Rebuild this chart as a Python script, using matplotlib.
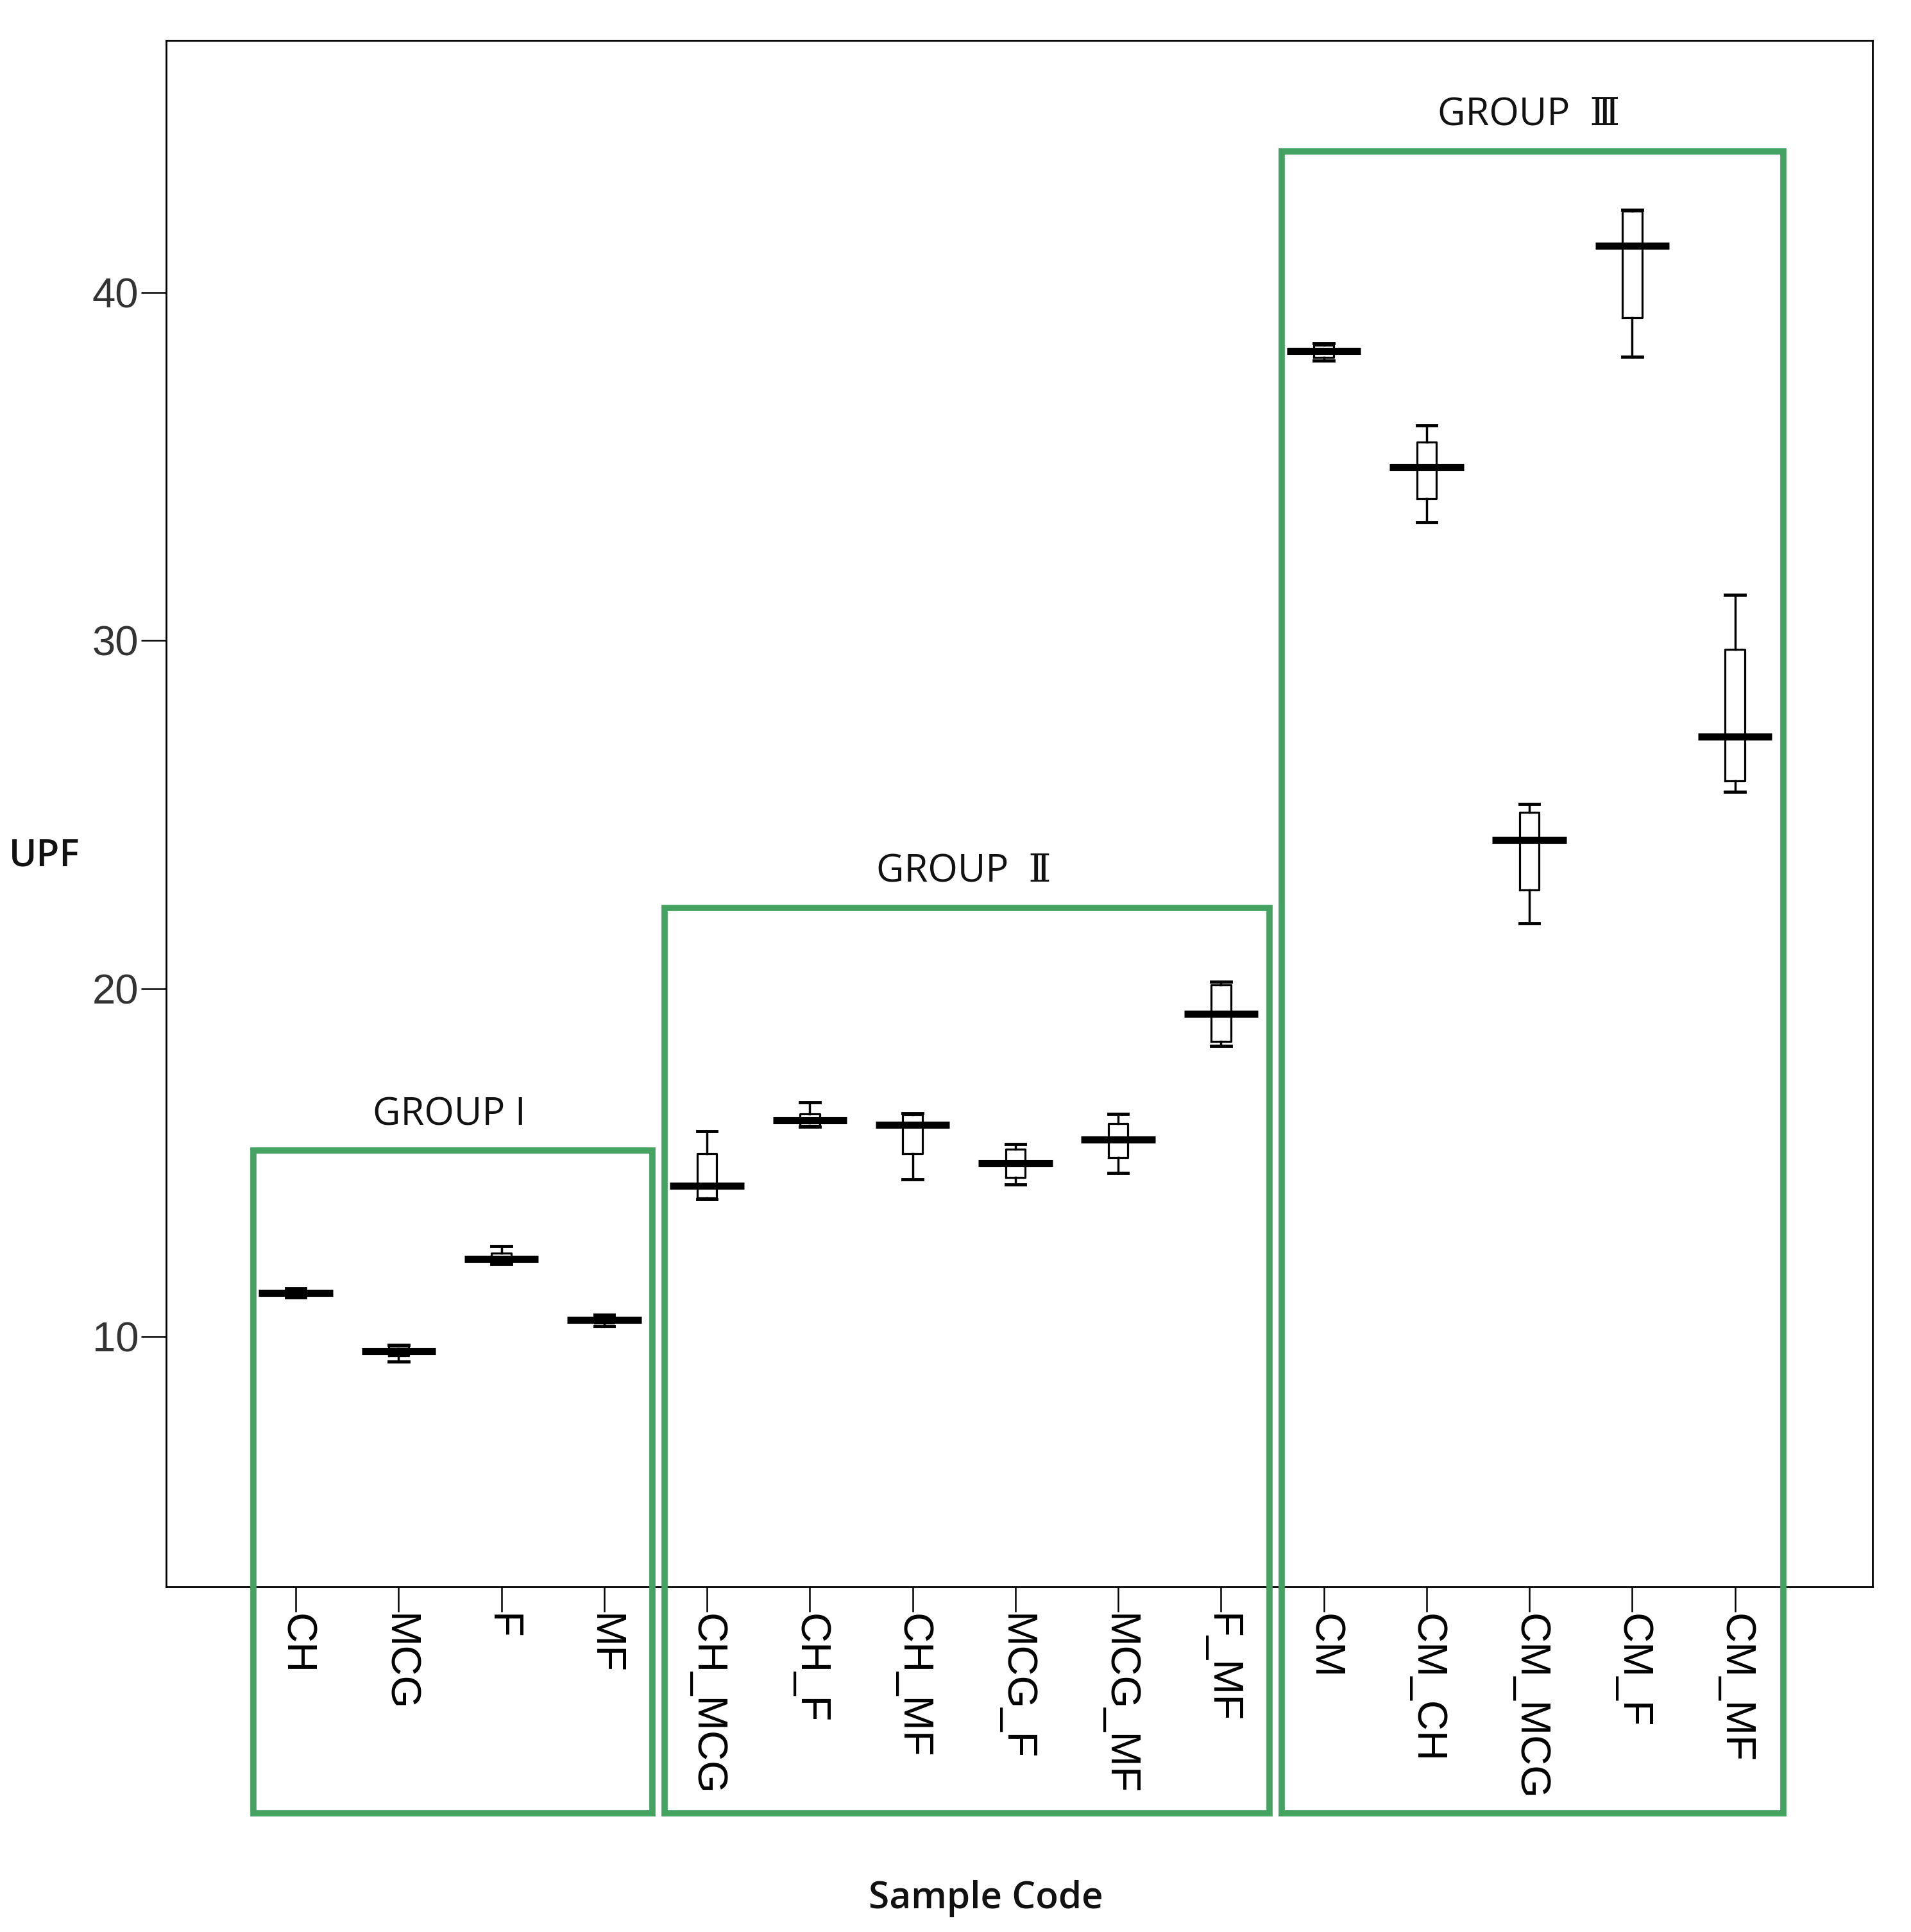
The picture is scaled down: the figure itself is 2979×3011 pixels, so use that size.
import matplotlib
matplotlib.use("Agg")
import matplotlib.pyplot as plt
from matplotlib.patches import Rectangle

# ---------------- data ----------------
categories = ["CH", "MCG", "F", "MF",
              "CH_MCG", "CH_F", "CH_MF", "MCG_F", "MCG_MF", "F_MF",
              "CM", "CM_CH", "CM_MCG", "CM_F", "CM_MF"]
whis_lo = [11.12, 9.28, 12.09, 10.30,
           13.95, 16.02, 14.52, 14.37, 14.70, 18.36,
           38.05, 33.40, 21.88, 38.16, 25.65]
q1 = [11.18, 9.45, 12.12, 10.38,
      13.98, 16.06, 15.26, 14.58, 15.15, 18.49,
      38.15, 34.08, 22.84, 39.28, 25.97]
median = [11.26, 9.57, 12.22, 10.47,
          14.34, 16.21, 16.09, 14.98, 15.66, 19.28,
          38.32, 34.99, 24.27, 41.36, 27.25]
q3 = [11.34, 9.72, 12.40, 10.58,
      15.26, 16.40, 16.38, 15.38, 16.12, 20.11,
      38.50, 35.71, 25.06, 42.35, 29.76]
whis_hi = [11.38, 9.75, 12.59, 10.62,
           15.90, 16.73, 16.42, 15.53, 16.40, 20.20,
           38.55, 36.18, 25.31, 42.38, 31.32]

group_names = ["GROUP I", "GROUP  \u2161", "GROUP  \u2162"]
group_first = [0, 4, 10]
group_last = [3, 9, 14]
group_top = [15.34, 22.32, 44.07]
group_bottom = -3.7

yticks = [10, 20, 30, 40]

# ---------------- figure ----------------
fig = plt.figure(figsize=(29.79, 30.11), dpi=100)
ax = fig.add_axes([0.0870, 0.1786, 0.980 - 0.0870, 0.979 - 0.1786])

positions = list(range(len(categories)))
stats = []
for i, name in enumerate(categories):
    stats.append(dict(label=name, whislo=whis_lo[i], q1=q1[i], med=median[i],
                      q3=q3[i], whishi=whis_hi[i], fliers=[]))

ax.bxp(stats, positions=positions, widths=0.19, capwidths=0.19,
       showfliers=False, patch_artist=False,
       boxprops=dict(color="black", linewidth=2.3),
       whiskerprops=dict(color="black", linewidth=2.5),
       capprops=dict(color="black", linewidth=3.5),
       medianprops=dict(linewidth=0))
half = 0.36
ax.hlines(median, [p - half for p in positions], [p + half for p in positions],
          colors="black", linewidth=8, zorder=5)

ax.set_xlim(-1.26, 15.34)
ax.set_ylim(2.8, 47.25)
ax.set_yticks(yticks)
ax.set_yticklabels([str(t) for t in yticks])
ax.set_xticks(positions)
ax.set_xticklabels(categories, rotation=-90, va="top", ha="center")

for sp in ax.spines.values():
    sp.set_linewidth(2.0)
    sp.set_color("black")

ax.tick_params(axis="both", direction="out", length=28, width=1.8,
               labelsize=47, colors="black")
ax.tick_params(axis="y", labelcolor="#333333")
ax.tick_params(axis="x", pad=2)
ax.tick_params(axis="y", pad=3)
for lab in ax.get_xticklabels() + ax.get_yticklabels():
    lab.set_fontfamily("Liberation Sans")

# ---------------- group frames ----------------
green = "#45a362"
for name, f, l, top in zip(group_names, group_first, group_last, group_top):
    x0 = f - 0.41
    x1 = l + 0.47
    rect = Rectangle((x0, group_bottom), x1 - x0, top - group_bottom,
                     fill=False, edgecolor=green, linewidth=7,
                     clip_on=False, zorder=6)
    ax.add_patch(rect)
    ax.annotate(name, xy=((x0 + x1) / 2, top), xytext=(-4, 29),
                textcoords="offset points", ha="center", va="baseline",
                fontsize=43, family=["Open Sans", "DejaVu Serif", "DejaVu Sans"],
                color="#111111", annotation_clip=False)

fig.text(0.0232, 0.5568, "UPF", ha="center", va="center", fontsize=42,
         family="Open Sans", fontweight="semibold", color="#111111")
fig.text(0.5158, 0.0172, "Sample Code", ha="center", va="center", fontsize=42,
         family="Open Sans", fontweight="semibold", color="#111111")

fig.savefig("out.png", dpi=100, facecolor="white")
